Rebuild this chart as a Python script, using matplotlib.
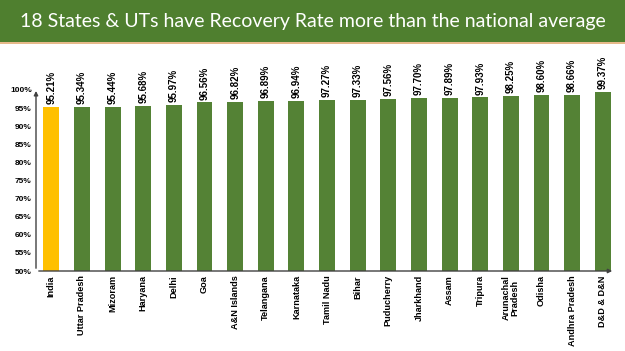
import matplotlib.pyplot as plt
from matplotlib.patches import Rectangle

states = ["India", "Uttar Pradesh", "Mizoram", "Haryana", "Delhi", "Goa",
          "A&N Islands", "Telangana", "Karnataka", "Tamil Nadu", "Bihar",
          "Puducherry", "Jharkhand", "Assam", "Tripura", "Arunachal\nPradesh",
          "Odisha", "Andhra Pradesh", "D&D & D&N"]
rates = [95.21, 95.34, 95.44, 95.68, 95.97, 96.56, 96.82, 96.89, 96.94,
         97.27, 97.33, 97.56, 97.70, 97.89, 97.93, 98.25, 98.60, 98.66, 99.37]
yticks = list(range(50, 101, 5))

green = "#548235"
yellow = "#FFC000"
colors = [yellow] + [green] * (len(states) - 1)

fig = plt.figure(figsize=(6.25, 3.51), dpi=100)

# title banner
fig.patches.append(Rectangle((0, 1 - 42 / 351), 1, 42 / 351, transform=fig.transFigure,
                             facecolor="#4F7F2F", edgecolor="none", zorder=0))
fig.patches.append(Rectangle((0, 1 - 44 / 351), 1, 2 / 351, transform=fig.transFigure,
                             facecolor="#E6B98A", edgecolor="none", zorder=0))
fig.text(0.5, 1 - 21 / 351, "18 States & UTs have Recovery Rate more than the national average",
         ha="center", va="center", color="white", fontsize=14, family="Lato")

ax = fig.add_axes([36 / 625, 1 - 271 / 351, (615 - 36) / 625, (271 - 90) / 351])
x = range(len(states))
ax.bar(x, [r - 50 for r in rates], bottom=50, width=0.52, color=colors)

for i, r in enumerate(rates):
    ax.text(i, r + 0.8, f"{r:.2f}%", rotation=90, ha="center", va="bottom",
            fontsize=7, fontweight="bold", family="Liberation Sans")

ax.set_xlim(-0.5, 18.4)
ax.set_ylim(50, 100)
ax.set_yticks(yticks)
ax.set_yticklabels([f"{t}%" for t in yticks], fontsize=6, fontweight="bold",
                   family="Liberation Sans")
ax.set_xticks(list(x))
ax.set_xticklabels(states, rotation=90, fontsize=6.6, fontweight="bold",
                   family="Liberation Sans", linespacing=1.0)
ax.tick_params(length=0, pad=3)
for s in ax.spines.values():
    s.set_visible(False)

# axis lines with arrows
ax.annotate("", xy=(1.0, 0), xytext=(0, 0), xycoords="axes fraction",
            arrowprops=dict(arrowstyle="-|>", color="#404040", lw=1, mutation_scale=6))
ax.annotate("", xy=(0, 1.01), xytext=(0, 0), xycoords="axes fraction",
            arrowprops=dict(arrowstyle="-|>", color="#404040", lw=1, mutation_scale=6),
            annotation_clip=False)

fig.savefig("out.png", dpi=100)
